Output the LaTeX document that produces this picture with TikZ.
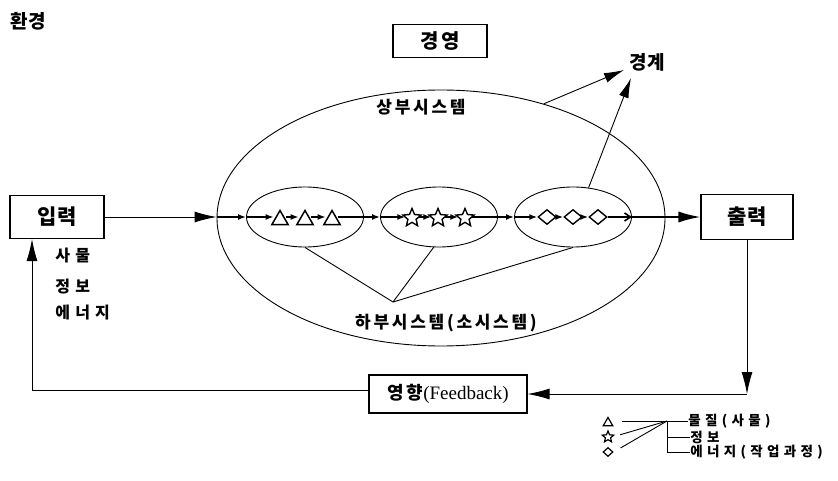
\documentclass[tikz,border=0pt]{standalone}
\usepackage{fontspec}
\setmainfont{Liberation Serif}
\newfontfamily\kr{Noto Sans CJK KR}
\newfontfamily\krsp[LetterSpace=16]{Noto Sans CJK KR}
\newfontfamily\krwide[LetterSpace=32]{Noto Sans CJK KR}
\usetikzlibrary{positioning,arrows.meta,shapes.geometric}

\begin{document}
\begin{tikzpicture}[x=1pt, y=-1pt, line width=0.9pt,
   box/.style={draw, line width=1.1pt, minimum width=94pt, minimum height=43pt, inner sep=0pt,
               font=\kr\bfseries\fontsize{21}{24}\selectfont},
   lbl/.style={inner sep=0pt, font=\krsp\bfseries\fontsize{17}{20}\selectfont},
   key/.style={inner sep=0pt, anchor=west, font=\krwide\bfseries\fontsize{13.5}{16}\selectfont},
   sys/.style={draw, ellipse, minimum width=117pt, minimum height=60pt},
   tri/.style={draw, line width=1.5pt, fill=white, regular polygon, regular polygon sides=3,
               minimum size=19pt, inner sep=0pt},
   str/.style={draw, line width=1.4pt, fill=white, star, star points=5, star point ratio=2.2,
               minimum size=19pt, inner sep=0pt},
   dia/.style={draw, line width=1.4pt, fill=white, diamond, minimum width=18pt,
               minimum height=15pt, inner sep=0pt},
   chain/.style={line width=1.6pt, -{Latex[length=8pt,width=6pt]}},
   big/.style={-{Latex[length=22pt,width=11pt]}},
   >={Latex[length=20pt,width=10pt]}]
  \useasboundingbox (0,0) rectangle (838,481);

  % labels and boxes
  \node[inner sep=0pt, font=\kr\bfseries\fontsize{19}{22}\selectfont] (env) at (28,21) {환경};
  \node[box, minimum height=33pt, font=\krsp\bfseries\fontsize{20}{24}\selectfont] (mgmt) at (440,41) {경영};
  \node[inner sep=0pt, font=\kr\bfseries\fontsize{19}{22}\selectfont] (bnd) at (647,62) {경계};
  \node[box] (in) at (57,217) {입력};
  \node[box, minimum width=92pt, minimum height=45pt] (out) at (747,217) {출력};
  \node[box, minimum width=158pt, minimum height=38pt, font=\fontsize{19}{22}\selectfont]
    (fb) at (448,394) {{\krsp\bfseries\fontsize{18}{22}\selectfont 영향}(Feedback)};

  \node[lbl, anchor=west, font=\krwide\bfseries\fontsize{16}{19}\selectfont] (thing) at (55,256) {사물};
  \node[lbl, anchor=west, font=\krwide\bfseries\fontsize{16}{19}\selectfont] (info) at (55,287) {정보};
  \node[lbl, anchor=west, font=\krwide\bfseries\fontsize{16}{19}\selectfont] (energy) at (55,313) {에너지};

  % upper system and the three subsystems
  \node[draw, ellipse, minimum width=448pt, minimum height=256pt] (upsys) at (441,218) {};
  \node[lbl] (upper) at (421,107) {상부시스템};
  \node[lbl] (lower) at (446,323) {하부시스템(소시스템)};
  \node[sys] (s1) at (305,217) {};
  \node[sys] (s2) at (439,217) {};
  \node[sys] (s3) at (573,217) {};

  \node[tri] (t1) at (280,220) {};
  \node[tri] (t2) at (305,220) {};
  \node[tri] (t3) at (332,220) {};
  \node[str] (a1) at (412,218) {};
  \node[str] (a2) at (438,218) {};
  \node[str] (a3) at (465,218) {};
  \node[dia] (d1) at (547,217) {};
  \node[dia] (d2) at (573,217) {};
  \node[dia] (d3) at (598,217) {};

  % flow through the system
  \draw[big] (in.east) -- (upsys.west |- in.east);
  \draw[chain] (upsys.west |- s1.center) -- (s1.west);
  \draw[chain] (s1.west) -- (t1.west |- s1.center);
  \draw[chain] (t1.east |- s1.center) -- (t2.west |- s1.center);
  \draw[chain] (t2.east |- s1.center) -- (t3.west |- s1.center);
  \draw[chain] (t3.east |- s1.center) -- (s2.west);
  \draw[chain] (s2.west) -- (a1.west |- s2.center);
  \draw[chain] (a1.east |- s2.center) -- (a2.west |- s2.center);
  \draw[chain] (a2.east |- s2.center) -- (a3.west |- s2.center);
  \draw[chain] (a3.east |- s2.center) -- (s3.west);
  \draw[chain] (s3.west) -- (d1.west);
  \draw[chain] (d1.east) -- (d2.west);
  \draw[chain] (d2.east) -- (d3.west);
  \draw[line width=1.6pt, -{Straight Barb[length=6pt,width=8pt]}] (d3.east) -- (s3.east);
  \draw[line width=1.6pt, big] (s3.east) -- (out.west);

  % boundary
  \coordinate (tipA) at (624,70);
  \coordinate (tipB) at (631,78);
  \draw[->] (upsys.48) -- (tipA);
  \draw[->] (s3.62) -- (tipB);

  % subsystem pointers
  \coordinate (hub) at (393,302);
  \draw (s1.south) -- (hub);
  \draw (s2.-100) -- (hub);
  \draw (s3.south) -- (hub);

  % feedback loop
  \draw[big] (out.south) -- (out.south |- fb);
  \draw[big] (out.south |- fb) -- (fb.east);
  \draw[big] ([yshift=4pt]fb.west) -| ([xshift=-25pt]in.south);

  % legend
  \node[tri, line width=1.2pt, minimum size=11pt] (lt) at (608,423) {};
  \node[str, line width=1.2pt, minimum size=12pt] (ls) at (608,437) {};
  \node[dia, line width=1.2pt, minimum width=10pt, minimum height=9pt] (ld) at (608,452) {};
  \node[key] (m1) at (688,421) {물질(사물)};
  \node[key] (m2) at (690,437) {정보};
  \node[key] (m3) at (690,452) {에너지(작업과정)};
  \coordinate (lj) at (667,421);
  \draw ([xshift=14pt]lt.center |- m1.west) -- (m1.west);
  \draw[shorten <=8pt] (ls.east) -- (lj);
  \draw[shorten <=8pt] (ld.east) -- (lj);
  \draw (lj) |- (m2.west);
  \draw (lj) |- (m3.west);
\end{tikzpicture}
\end{document}
